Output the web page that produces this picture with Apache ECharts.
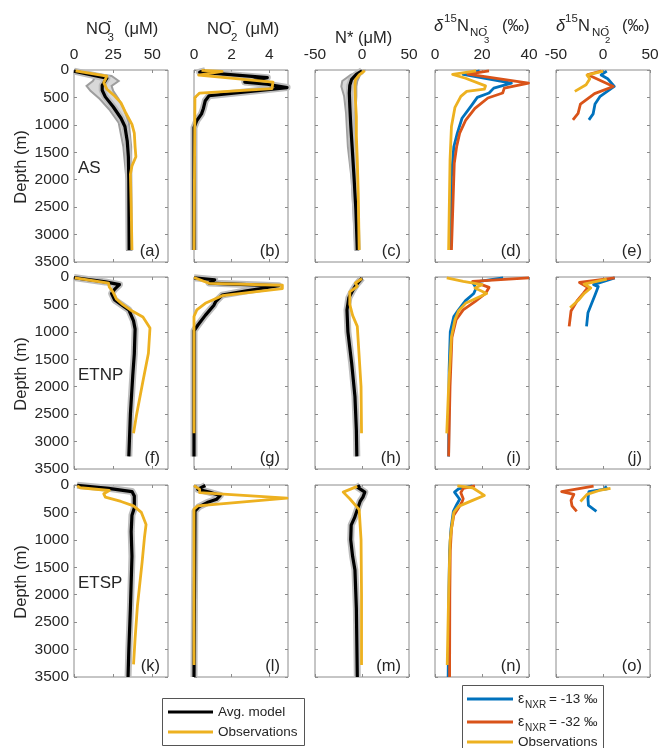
<!DOCTYPE html>
<html>
<head>
<meta charset="utf-8">
<script src="https://cdn.jsdelivr.net/npm/echarts@6.0.0/dist/echarts.min.js"></script>
<style>
  html, body { margin: 0; padding: 0; background: #fff; }
  #chart { width: 669px; height: 748px; }
</style>
</head>
<body>
<div id="chart"></div>
<script>
const FONT = '"Liberation Sans", Arial, sans-serif';

// axes
const xMins = [0, 0, -50, 0, -50];
const xMaxs = [60, 5, 50, 40, 50];
const xTickVals = [[0, 25, 50], [0, 2, 4], [-50, 0, 50], [0, 20, 40], [-50, 0, 50]];
const depthMax = 3500;
const depthStep = 500;
const regions = ['AS', 'ETNP', 'ETSP'];
const panelLetters = ['a','b','c','d','e','f','g','h','i','j','k','l','m','n','o'];

// ---- AS ---- [value, depth]
const asNo3Model = [[0,20],[21,150],[18,280],[18,370],[20,490],[25,670],[30,880],[32.5,1030],[34,1300],[34.7,1580],[35,2000],[35.2,3280]];
const asNo3Obs = [[1,15],[21,110],[19,230],[21,350],[26,475],[30,600],[33,780],[37,990],[38.5,1150],[39,1400],[39.5,1580],[37,1750],[36,1900],[36.5,2500],[37,3280]];
const asNo3BandDepth = [20,110,200,290,380,530,720,960,1400,2000,3280];
const asNo3BandLo = [0,14,12,8,10.5,16.5,22.5,28.5,31.5,33.5,33.8];
const asNo3BandHi = [0,24,28.5,24,25,28.5,32,35,36.5,36.5,36.7];

const asNo2Model = [[0.6,10],[0.3,40],[3.9,140],[2.7,220],[3.9,260],[4.95,320],[0.8,470],[0.6,560],[0.5,700],[0.4,800],[0.15,920],[0,1050],[0,3280]];
const asNo2Obs = [[0.4,5],[1.5,25],[1.6,50],[0.25,95],[4.2,220],[4.15,340],[0.3,420],[0.05,500],[0,3280]];

const asNstarModel = [[0,15],[-6,80],[-11,170],[-13,280],[-13.5,420],[-13,650],[-12,1000],[-10.5,1400],[-8.5,1950],[-6.5,2550],[-5,3280]];
const asNstarObs = [[3,10],[-3,90],[-7,180],[-7.5,300],[-7,550],[-6,850],[-6,1200],[-5,1650],[-4,2250],[-3,3280]];
const asNstarBandDepth = [15,90,200,300,480,780,1400,2000,3280];
const asNstarBandLo = [-2,-12,-21,-22,-19,-17,-15,-11,-7];
const asNstarBandHi = [2,-2,-5,-6,-6,-7,-7,-6,-4];

const asD15No3Blue = [[19,15],[12,80],[32.5,240],[25,330],[23,420],[18,500],[15.5,650],[11.5,880],[9.5,1150],[8,1400],[7,1950],[6.5,3280]];
const asD15No3Red = [[23,15],[14,75],[39.8,240],[29.5,330],[28.8,420],[22.5,510],[17,700],[13,920],[10.5,1150],[9.2,1400],[8.2,1700],[7,3280]];
const asD15No3Obs = [[17.5,15],[7.5,80],[13,150],[21.5,290],[21,350],[13.5,390],[11,480],[8.5,680],[7,1030],[6.4,1640],[5.8,3280]];

const asD15No2Blue = [[4,20],[-2,90],[5,160],[12,300],[-3,480],[-8.5,620],[-10.5,800],[-15,910]];
const asD15No2Red = [[-2,20],[-16,85],[11,300],[-9,430],[-24,620],[-26.5,790],[-32,910]];
const asD15No2Obs = [[0,20],[-17,95],[-14,160],[-18,270],[-30,390]];

// ---- ETNP ----
const etnpNo3Model = [[0,10],[20,90],[29,140],[26,220],[24,300],[26,420],[30,500],[35,600],[38,800],[39,950],[38.5,1400],[37.5,1800],[36,2500],[35,3270]];
const etnpNo3Obs = [[0.5,15],[22,110],[22.5,180],[25,280],[27,400],[31,500],[36,600],[44,730],[48.5,930],[47.5,1390],[44,1900],[40,2500],[38,2850]];

const etnpNo2Model = [[0,15],[1.1,50],[0.8,110],[4.5,160],[2.8,250],[1.5,330],[1.15,450],[1.05,520],[0.6,700],[0.2,880],[0,980],[0,3270]];
const etnpNo2Obs = [[0,10],[0.8,115],[4.7,150],[4.7,210],[1.5,340],[0.6,480],[0.15,600],[0,720],[0,2850]];

const etnpNstarModel = [[0,20],[-3,80],[-6,140],[-10,250],[-14,380],[-16,600],[-15,1000],[-11,1570],[-7.5,2180],[-6,2790],[-5.5,3270]];
const etnpNstarObs = [[0,30],[-7,110],[-5,170],[-13,270],[-13,500],[-10,700],[-5,900],[-3,1450],[-1,2000],[-0.5,2850]];

const etnpD15No3Blue = [[29,15],[16,100],[17.5,200],[16.5,300],[13,430],[10,600],[8,720],[6.5,1000],[6,1700],[5.8,3270]];
const etnpD15No3Red = [[40,15],[16,80],[23,190],[21.5,300],[17,450],[12,600],[9,780],[7.2,1100],[6.4,2000],[5.8,3270]];
const etnpD15No3Obs = [[5,15],[12,80],[20,140],[17,200],[22,300],[19,360],[13,480],[10,620],[8.5,780],[7,1090],[5.8,2000],[5,2850]];

const etnpD15No2Blue = [[12.5,15],[-10,140],[-5,175],[-9,350],[-12,480],[-16,650],[-17.5,900]];
const etnpD15No2Red = [[12.5,15],[-25,100],[-16,190],[-21,300],[-27,420],[-34,620],[-36,900]];
const etnpD15No2Obs = [[4,40],[-20,130],[-13,200],[-20,300],[-26,420],[-35,560]];

// ---- ETSP ----
const etspNo3Model = [[2,5],[22,60],[37,120],[38.5,200],[38.5,420],[37,550],[36.5,850],[37,1300],[36,2250],[35,3000],[34.5,3500]];
const etspNo3Obs = [[2,15],[4,50],[22.5,100],[19,160],[20,220],[30,300],[38,380],[43,500],[46,720],[45,950],[43.5,1400],[40.5,2200],[39,2800],[38,3270]];

const etspNo2Model = [[0.6,10],[0.2,80],[0.8,130],[1.4,190],[1.2,260],[0.7,320],[0.25,400],[0.05,480],[0,3500]];
const etspNo2Obs = [[0,10],[0.3,80],[0.3,140],[4.95,240],[0.2,380],[0,440],[0,3280]];

const etspNstarModel = [[-2,10],[-5,40],[3,130],[1,220],[-2,300],[-5,450],[-8,600],[-11.5,730],[-12,1000],[-10,1300],[-7.5,1550],[-6,2250],[-5,3500]];
const etspNstarObs = [[-5,25],[-20,130],[-13,250],[-3,450],[-1,1000],[-0.5,2000],[-0.5,3280]];

const etspD15No3Blue = [[16,15],[10,70],[8.3,130],[10.5,260],[9.2,360],[7.8,480],[6.8,800],[6.2,1200],[5.9,2000],[5.6,3500]];
const etspD15No3Red = [[17,15],[12,60],[11,140],[12,250],[11.5,310],[10,420],[8,550],[7,800],[6.5,1200],[6.3,2000],[6.2,3500]];
const etspD15No3Obs = [[9.5,15],[16,50],[21,190],[16,280],[10,390],[8,500],[7,800],[6.4,1030],[5.8,2000],[5.2,3280]];

const etspD15No2Blue = [[2,20],[4,70],[-15,120],[-16,250],[-15.5,370],[-7,480]];
const etspD15No2Red = [[-10,20],[-44,120],[-31,170],[-34,280],[-33,380],[-28,480]];
const etspD15No2Obs = [[8,60],[-4,100],[-17,170],[-24,300]];

const panels = [
  [
    { model: asNo3Model, obs: asNo3Obs, band: [asNo3BandDepth, asNo3BandLo, asNo3BandHi] },
    { model: asNo2Model, obs: asNo2Obs },
    { model: asNstarModel, obs: asNstarObs, band: [asNstarBandDepth, asNstarBandLo, asNstarBandHi] },
    { blue: asD15No3Blue, red: asD15No3Red, obs: asD15No3Obs },
    { blue: asD15No2Blue, red: asD15No2Red, obs: asD15No2Obs }
  ],
  [
    { model: etnpNo3Model, obs: etnpNo3Obs },
    { model: etnpNo2Model, obs: etnpNo2Obs },
    { model: etnpNstarModel, obs: etnpNstarObs },
    { blue: etnpD15No3Blue, red: etnpD15No3Red, obs: etnpD15No3Obs },
    { blue: etnpD15No2Blue, red: etnpD15No2Red, obs: etnpD15No2Obs }
  ],
  [
    { model: etspNo3Model, obs: etspNo3Obs },
    { model: etspNo2Model, obs: etspNo2Obs },
    { model: etspNstarModel, obs: etspNstarObs },
    { blue: etspD15No3Blue, red: etspD15No3Red, obs: etspD15No3Obs },
    { blue: etspD15No2Blue, red: etspD15No2Red, obs: etspD15No2Obs }
  ]
];

// layout
const colLeft = [74, 194, 315, 435, 556];
const rowTop = [70, 277, 485];
const panelW = 94, panelH = 192;
const frame = '#8c8c8c';
const ink = '#262626';
const BLUE = '#0072BD', RED = '#D95319', YELLOW = '#EDB120';

const grid = [], xAxis = [], yAxis = [], series = [];

function lineSeries(g, data, color, width, z) {
  return {
    type: 'line', xAxisIndex: 2 * g, yAxisIndex: 2 * g, data: data,
    symbol: 'none', clip: false, silent: true, z: z,
    lineStyle: { color: color, width: width, join: 'round' }
  };
}

function bandSeries(g, band) {
  const [dep, lo, hi] = band;
  return {
    type: 'custom', xAxisIndex: 2 * g, yAxisIndex: 2 * g, silent: true, z: 1,
    data: [[lo[0], dep[0]]],
    renderItem: function (params, api) {
      const pts = [];
      for (let i = 0; i < dep.length; i++) pts.push(api.coord([lo[i], dep[i]]));
      for (let i = dep.length - 1; i >= 0; i--) pts.push(api.coord([hi[i], dep[i]]));
      return { type: 'polygon', shape: { points: pts }, style: { fill: '#d8d8d8', stroke: '#9e9e9e', lineWidth: 2 } };
    }
  };
}

for (let r = 0; r < 3; r++) {
  for (let c = 0; c < 5; c++) {
    const g = r * 5 + c;
    grid.push({ left: colLeft[c], top: rowTop[r], width: panelW, height: panelH, show: true, borderColor: frame, borderWidth: 1 });
    ['top', 'bottom'].forEach(pos => xAxis.push({
      gridIndex: g, type: 'value', position: pos,
      min: xMins[c], max: xMaxs[c], interval: xTickVals[c][1] - xTickVals[c][0],
      axisLine: { show: false, onZero: false }, splitLine: { show: false },
      axisTick: { show: true, inside: true, length: 3, lineStyle: { color: frame }, customValues: xTickVals[c] },
      axisLabel: { show: pos === 'top' && r === 0, customValues: xTickVals[c], margin: 7, color: ink, fontSize: 15.5, fontFamily: FONT }
    }));
    ['left', 'right'].forEach(pos => yAxis.push({
      gridIndex: g, type: 'value', position: pos, inverse: true,
      min: 0, max: depthMax, interval: depthStep,
      axisLine: { show: false, onZero: false }, splitLine: { show: false },
      axisTick: { show: true, inside: true, length: 3, lineStyle: { color: frame } },
      axisLabel: { show: pos === 'left' && c === 0, margin: 5, color: ink, fontSize: 15.5, fontFamily: FONT,
        formatter: v => String(v) }
    }));

    const p = panels[r][c];
    if (p.band) series.push(bandSeries(g, p.band));
    if (p.model) {
      series.push(lineSeries(g, p.model, '#bdbdbd', 7, 2));
      series.push(lineSeries(g, p.model, '#000', 3.2, 3));
    }
    if (p.blue) series.push(lineSeries(g, p.blue, BLUE, 2.8, 3));
    if (p.red) series.push(lineSeries(g, p.red, RED, 2.8, 4));
    series.push(lineSeries(g, p.obs, YELLOW, 2.8, 5));
  }
}

// text helpers
function txt(x, y, text, size, opts) {
  opts = opts || {};
  return {
    type: 'text', x: x, y: y, rotation: opts.rotation || 0, silent: true, z: 100,
    style: {
      text: text, fill: ink,
      font: (opts.italic ? 'italic ' : '') + size + 'px ' + FONT,
      align: opts.align || 'left', textAlign: opts.align || 'left',
      verticalAlign: 'middle', textVerticalAlign: 'middle'
    }
  };
}

const graphics = [];
// column titles
graphics.push(txt(86, 29, 'NO', 16.5), txt(107.5, 22, '-', 12), txt(107.5, 38, '3', 11.5), txt(124, 29, '(\u03bcM)', 16.5));
graphics.push(txt(207, 29, 'NO', 16.5), txt(231, 22, '-', 12), txt(231, 38, '2', 11.5), txt(245, 29, '(\u03bcM)', 16.5));
graphics.push(txt(335, 38, 'N* (\u03bcM)', 16.5));
graphics.push(txt(434, 26, '\u03b4', 16.5, { italic: true }), txt(444, 19, '15', 11.5), txt(457, 26, 'N', 16.5),
  txt(470, 33, 'NO', 11.5), txt(484, 26, '-', 10), txt(484, 40, '3', 9.5), txt(502, 26, '(\u2030)', 16.5));
graphics.push(txt(556, 26, '\u03b4', 16.5, { italic: true }), txt(565, 19, '15', 11.5), txt(578, 26, 'N', 16.5),
  txt(592, 33, 'NO', 11.5), txt(605, 26, '-', 10), txt(605, 40, '2', 9.5), txt(622, 26, '(\u2030)', 16.5));

// depth labels, region names, panel letters
for (let r = 0; r < 3; r++) {
  graphics.push(txt(21, rowTop[r] + 97, 'Depth (m)', 16.5, { rotation: Math.PI / 2, align: 'center' }));
  graphics.push(txt(78, rowTop[r] + 98, regions[r], 17));
  for (let c = 0; c < 5; c++) {
    graphics.push(txt(colLeft[c] + panelW - 8, rowTop[r] + panelH - 11, '(' + panelLetters[r * 5 + c] + ')', 16.5, { align: 'right' }));
  }
}

// legends
function legendLine(x1, x2, y, color) {
  return { type: 'line', silent: true, z: 100, shape: { x1: x1, y1: y, x2: x2, y2: y }, style: { stroke: color, lineWidth: 2.8 } };
}
graphics.push({ type: 'rect', silent: true, z: 99, shape: { x: 162.5, y: 698.5, width: 142, height: 47 }, style: { fill: '#fff', stroke: '#555', lineWidth: 1 } });
graphics.push(legendLine(168, 213, 712, '#000'), txt(218, 712, 'Avg. model', 13.5));
graphics.push(legendLine(168, 213, 732, YELLOW), txt(218, 732, 'Observations', 13.5));

graphics.push({ type: 'rect', silent: true, z: 99, shape: { x: 462.5, y: 685.5, width: 141, height: 75 }, style: { fill: '#fff', stroke: '#555', lineWidth: 1 } });
graphics.push(legendLine(467, 513, 699, BLUE), txt(518, 699, '\u03b5', 14), txt(525, 705, 'NXR', 10), txt(549, 699, '= -13 \u2030', 13.5));
graphics.push(legendLine(467, 513, 722, RED), txt(518, 722, '\u03b5', 14), txt(525, 728, 'NXR', 10), txt(549, 722, '= -32 \u2030', 13.5));
graphics.push(legendLine(467, 513, 742, YELLOW), txt(518, 742, 'Observations', 13.5));

const chart = echarts.init(document.getElementById('chart'));
chart.setOption({
  animation: false,
  backgroundColor: '#fff',
  grid: grid,
  xAxis: xAxis,
  yAxis: yAxis,
  series: series,
  graphic: { elements: graphics }
});
</script>
</body>
</html>
